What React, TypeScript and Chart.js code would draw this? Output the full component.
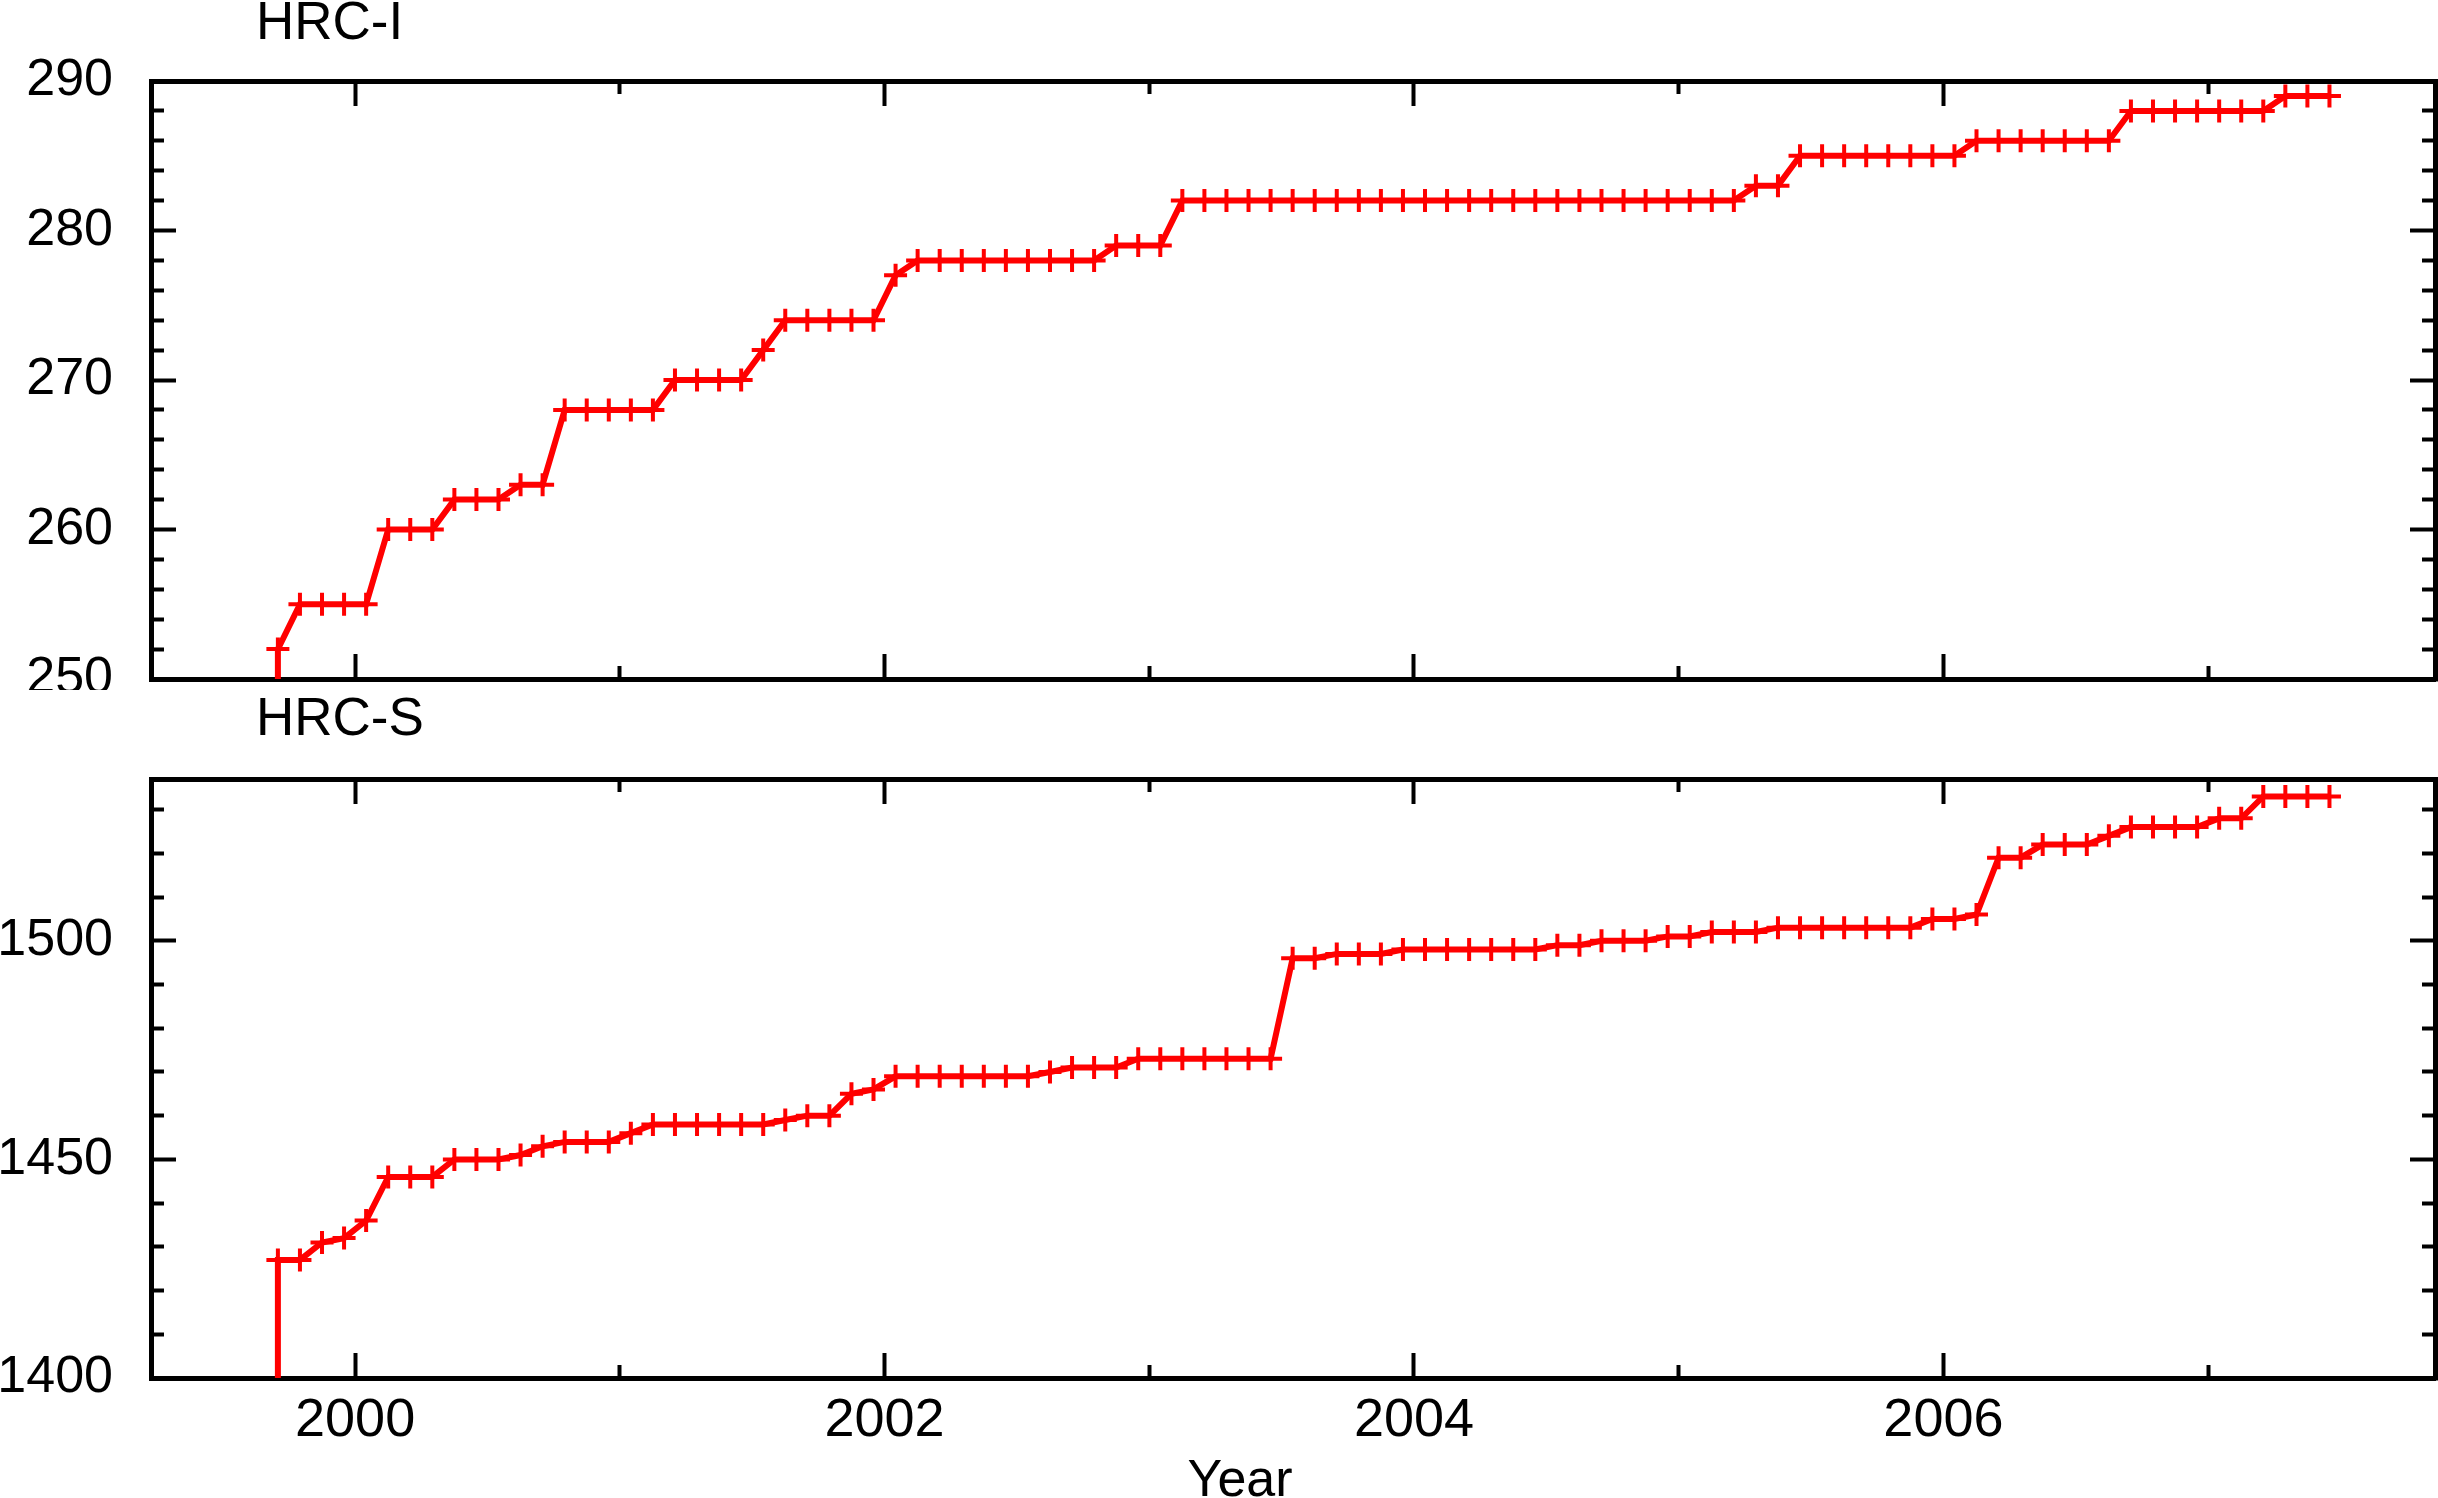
import React, { useEffect, useRef } from "react";
import { Chart, registerables } from "chart.js";

Chart.register(...registerables);

// ---------------- data ----------------
// Monthly samples, first sample in September 1999
const startYear = 1999;
const startMonth = 9;
// value preceding the first sample (gives the vertical lead-in line at the start)
const leadInValue = 0;

const hrcIValues = [
  252,
  255, 255, 255, 255,
  260, 260, 260,
  262, 262, 262,
  263, 263,
  268, 268, 268, 268, 268,
  270, 270, 270, 270,
  272,
  274, 274, 274, 274, 274,
  277,
  278, 278, 278, 278, 278, 278, 278, 278, 278,
  279, 279, 279,
  282, 282, 282, 282, 282, 282, 282, 282, 282, 282, 282, 282, 282,
  282, 282, 282, 282, 282, 282, 282, 282, 282, 282, 282, 282, 282,
  283, 283,
  285, 285, 285, 285, 285, 285, 285, 285,
  286, 286, 286, 286, 286, 286, 286,
  288, 288, 288, 288, 288, 288, 288,
  289, 289, 289,
];

const hrcSValues = [
  1427, 1427, 1431, 1432, 1436,
  1446, 1446, 1446,
  1450, 1450, 1450,
  1451, 1453,
  1454, 1454, 1454,
  1456,
  1458, 1458, 1458, 1458, 1458, 1458,
  1459, 1460, 1460,
  1465, 1466,
  1469, 1469, 1469, 1469, 1469, 1469, 1469,
  1470,
  1471, 1471, 1471,
  1473, 1473, 1473, 1473, 1473, 1473, 1473,
  1496, 1496,
  1497, 1497, 1497,
  1498, 1498, 1498, 1498, 1498, 1498, 1498,
  1499, 1499,
  1500, 1500, 1500,
  1501, 1501,
  1502, 1502, 1502,
  1503, 1503, 1503, 1503, 1503, 1503, 1503,
  1505, 1505,
  1506,
  1519, 1519,
  1522, 1522, 1522,
  1524,
  1526, 1526, 1526, 1526,
  1528, 1528,
  1533, 1533, 1533, 1533,
];

const xMin = 1999.229;
const xMax = 2007.857;
const xMajorTicks = [2000, 2002, 2004, 2006];
const xMinorTicks = [2001, 2003, 2005, 2007];

const hrcIMin = 250;
const hrcIMax = 290;
const hrcIMajorTicks = [250, 260, 270, 280, 290];
const hrcIMinorTicks = [252, 254, 256, 258, 262, 264, 266, 268, 272, 274, 276, 278, 282, 284, 286, 288];

const hrcSMin = 1400;
const hrcSMax = 1537;
const hrcSMajorTicks = [1400, 1450, 1500];
const hrcSMinorTicks = [1410, 1420, 1430, 1440, 1460, 1470, 1480, 1490, 1510, 1520, 1530];

const panelTitles = ["HRC-I", "HRC-S"];
const xAxisTitle = "Year";

// ---------------- helpers ----------------
const monthToYear = (i: number) => startYear + (startMonth - 1 + i + 0.5) / 12;

const RED = "#ff0000";
const BLACK = "#000000";
const MAJOR_LEN = 25;
const MINOR_LEN = 13;
const FRAME_W = 5;

const textPlugin = {
  id: "panelText",
  afterDraw(chart: any, _args: any, opts: any) {
    const { ctx, chartArea } = chart;
    (opts.items || []).forEach((it: any) => {
      ctx.save();
      ctx.font = it.font;
      ctx.fillStyle = BLACK;
      ctx.textAlign = it.align || "left";
      ctx.textBaseline = "alphabetic";
      const y = it.fromBottom ? chartArea.bottom + it.dy : chartArea.top + it.dy;
      ctx.fillText(it.text, chartArea.left + it.dx, y);
      ctx.restore();
    });
  },
};

type PanelSpec = {
  values: number[];
  yMin: number;
  yMax: number;
  yMajor: number[];
  yMinor: number[];
  showXLabels: boolean;
  topSpace: number;
  bottomSpace: number;
  texts: any[];
};

function buildConfig(spec: PanelSpec): any {
  const points = [
    { x: monthToYear(0), y: leadInValue },
    ...spec.values.map((v, i) => ({ x: monthToYear(i), y: v })),
  ];

  const fixedTicks = (vals: number[]) => (scale: any) => {
    scale.ticks = vals.map((v) => ({ value: v }));
  };
  const resetPad = (scale: any) => {
    scale.paddingLeft = 0;
    scale.paddingRight = 0;
    scale.paddingTop = 0;
    scale.paddingBottom = 0;
  };
  const fitH = (h: number) => (scale: any) => {
    scale.height = h;
    resetPad(scale);
  };
  const fitW = (w: number) => (scale: any) => {
    scale.width = w;
    resetPad(scale);
  };

  const axis = (o: any) => ({
    type: "linear",
    position: o.position,
    weight: o.weight,
    min: o.min,
    max: o.max,
    border: { display: !!o.border, color: BLACK, width: FRAME_W },
    grid: {
      drawOnChartArea: false,
      drawTicks: true,
      color: BLACK,
      tickColor: BLACK,
      tickWidth: 4,
      tickLength: -o.len,
    },
    ticks: o.ticks || { display: false, autoSkip: false },
    afterBuildTicks: fixedTicks(o.tickValues),
    afterFit: o.horizontal ? fitH(o.size) : fitW(o.size),
  });

  const tickFont = { family: "'Liberation Sans', Arial, sans-serif", size: 52 };

  return {
    type: "line",
    data: {
      datasets: [
        {
          data: points,
          xAxisID: "x",
          yAxisID: "y",
          borderColor: RED,
          borderWidth: 6,
          tension: 0,
          pointStyle: "cross",
          pointRadius: (ctx: any) => (ctx.dataIndex === 0 ? 0 : 11.5),
          pointBorderColor: RED,
          pointBackgroundColor: RED,
          pointBorderWidth: 4,
          pointHoverRadius: 11.5,
        },
      ],
    },
    options: {
      responsive: false,
      animation: false,
      events: [],
      layout: { padding: 0, autoPadding: false },
      plugins: {
        legend: { display: false },
        tooltip: { enabled: false },
        title: { display: false },
        panelText: { items: spec.texts },
      },
      scales: {
        x: axis({
          position: "bottom", weight: 1, min: xMin, max: xMax, border: true, len: MAJOR_LEN,
          tickValues: xMajorTicks, horizontal: true, size: spec.bottomSpace,
          ticks: {
            display: spec.showXLabels, autoSkip: false, maxRotation: 0, padding: 36,
            color: BLACK, font: { ...tickFont, size: 54 },
            callback: (v: any) => String(v),
          },
        }),
        xMinor: axis({
          position: "bottom", weight: 0, min: xMin, max: xMax, len: MINOR_LEN,
          tickValues: xMinorTicks, horizontal: true, size: 0,
        }),
        xTop: axis({
          position: "top", weight: 1, min: xMin, max: xMax, border: true, len: MAJOR_LEN,
          tickValues: xMajorTicks, horizontal: true, size: spec.topSpace,
        }),
        xTopMinor: axis({
          position: "top", weight: 0, min: xMin, max: xMax, len: MINOR_LEN,
          tickValues: xMinorTicks, horizontal: true, size: 0,
        }),
        y: axis({
          position: "left", weight: 1, min: spec.yMin, max: spec.yMax, border: true, len: MAJOR_LEN,
          tickValues: spec.yMajor, horizontal: false, size: 151,
          ticks: {
            display: true, autoSkip: false, padding: 63, color: BLACK, font: tickFont,
            callback: (v: any) => String(v),
          },
        }),
        yMinor: axis({
          position: "left", weight: 0, min: spec.yMin, max: spec.yMax, len: MINOR_LEN,
          tickValues: spec.yMinor, horizontal: false, size: 0,
        }),
        yRight: axis({
          position: "right", weight: 1, min: spec.yMin, max: spec.yMax, border: true, len: MAJOR_LEN,
          tickValues: spec.yMajor, horizontal: false, size: 3,
        }),
        yRightMinor: axis({
          position: "right", weight: 0, min: spec.yMin, max: spec.yMax, len: MINOR_LEN,
          tickValues: spec.yMinor, horizontal: false, size: 0,
        }),
      },
    },
    plugins: [textPlugin],
  };
}

const TOP_H = 690;
const BOTTOM_H = 808;
const titleFont = "53px 'Liberation Sans', Arial, sans-serif";
const yearFont = "52px 'Liberation Sans', Arial, sans-serif";

export default function App() {
  const topRef = useRef<HTMLCanvasElement>(null);
  const botRef = useRef<HTMLCanvasElement>(null);

  useEffect(() => {
    const top = new Chart(
      topRef.current as HTMLCanvasElement,
      buildConfig({
        values: hrcIValues,
        yMin: hrcIMin,
        yMax: hrcIMax,
        yMajor: hrcIMajorTicks,
        yMinor: hrcIMinorTicks,
        showXLabels: false,
        topSpace: 81,
        bottomSpace: TOP_H - 679,
        texts: [{ text: panelTitles[0], font: titleFont, dx: 105, dy: -42 }],
      })
    );
    const bottom = new Chart(
      botRef.current as HTMLCanvasElement,
      buildConfig({
        values: hrcSValues,
        yMin: hrcSMin,
        yMax: hrcSMax,
        yMajor: hrcSMajorTicks,
        yMinor: hrcSMinorTicks,
        showXLabels: true,
        topSpace: 779 - TOP_H,
        bottomSpace: TOP_H + BOTTOM_H - 1378,
        texts: [
          { text: panelTitles[1], font: titleFont, dx: 105, dy: -44 },
          { text: xAxisTitle, font: yearFont, dx: 1089, dy: 118, fromBottom: true, align: "center" },
        ],
      })
    );
    return () => {
      top.destroy();
      bottom.destroy();
    };
  }, []);

  return (
    <div style={{ position: "absolute", left: 0, top: 0, width: 2438, height: 1498, background: "#fff" }}>
      <canvas ref={topRef} width={2438} height={TOP_H} style={{ position: "absolute", left: 0, top: 0 }} />
      <canvas ref={botRef} width={2438} height={BOTTOM_H} style={{ position: "absolute", left: 0, top: TOP_H }} />
    </div>
  );
}
